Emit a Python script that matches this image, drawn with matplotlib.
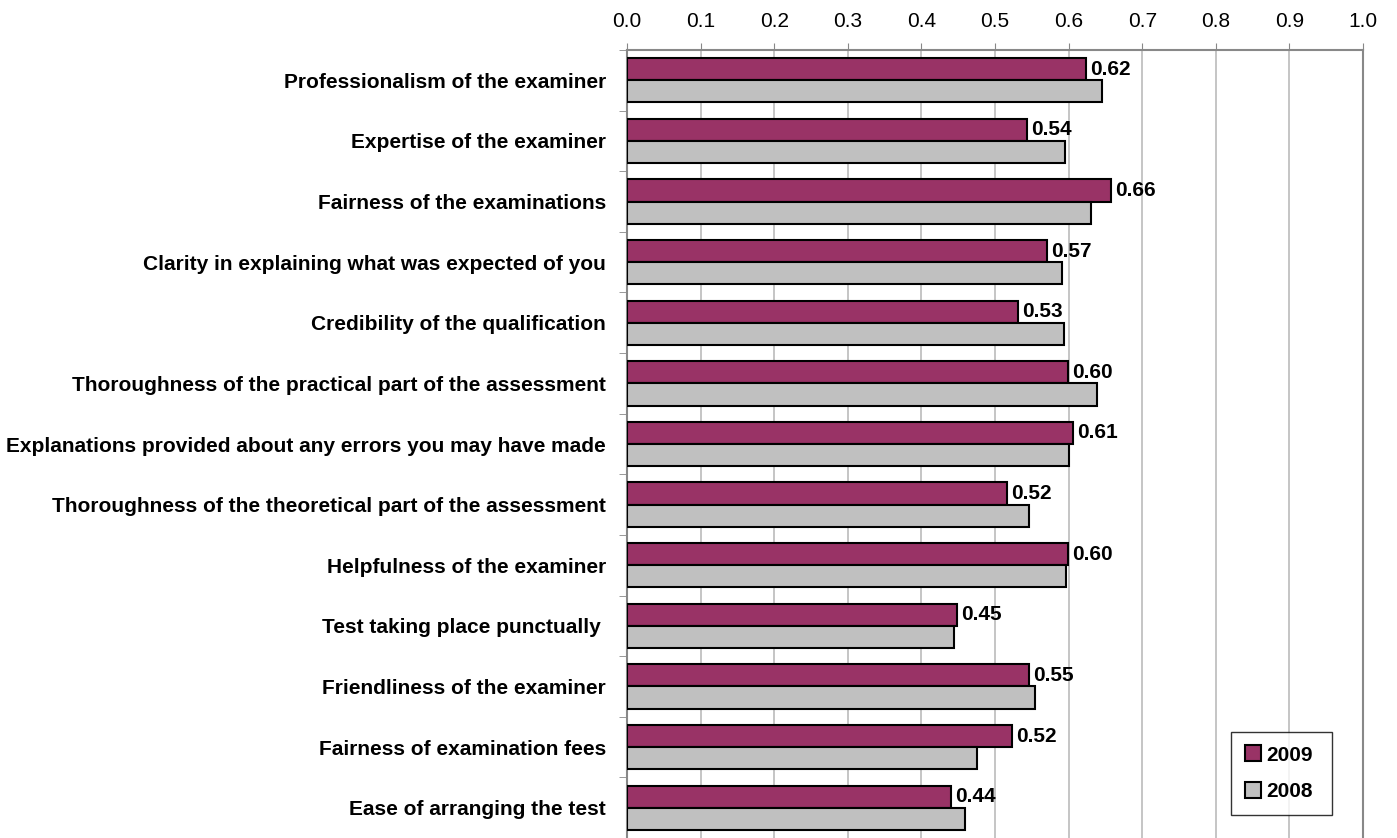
import matplotlib
matplotlib.use("Agg")
import matplotlib.pyplot as plt
import numpy as np

plt.rcParams['font.family'] = ['Liberation Sans', 'DejaVu Sans']

categories = [
    "Professionalism of the examiner",
    "Expertise of the examiner",
    "Fairness of the examinations",
    "Clarity in explaining what was expected of you",
    "Credibility of the qualification",
    "Thoroughness of the practical part of the assessment",
    "Explanations provided about any errors you may have made",
    "Thoroughness of the theoretical part of the assessment",
    "Helpfulness of the examiner",
    "Test taking place punctually ",
    "Friendliness of the examiner",
    "Fairness of examination fees",
    "Ease of arranging the test",
]
values_2009 = [0.624, 0.543, 0.657, 0.571, 0.531, 0.599, 0.606, 0.516, 0.599, 0.448, 0.546, 0.523, 0.440]
values_2008 = [0.646, 0.595, 0.631, 0.591, 0.594, 0.638, 0.600, 0.546, 0.596, 0.444, 0.554, 0.475, 0.459]
series_names = ["2009", "2008"]
x_ticks = [0.0, 0.1, 0.2, 0.3, 0.4, 0.5, 0.6, 0.7, 0.8, 0.9, 1.0]

fs = 15

fig = plt.figure(figsize=(13.97, 8.38), dpi=100)
ax = fig.add_axes([627/1397, 0.0, (1363-627)/1397, 1 - 50/838])

n = len(categories)
y = np.arange(n)
h = 0.365
grid_c = '#C0C0C0'
frame_c = '#888888'

ax.set_axisbelow(True)
b1 = ax.barh(y - h/2, values_2009, height=h, color='#993366', edgecolor='black', linewidth=1.5, label=series_names[0], zorder=3)
b2 = ax.barh(y + h/2, values_2008, height=h, color='#C0C0C0', edgecolor='black', linewidth=1.5, label=series_names[1], zorder=3)

for yi, v in zip(y, values_2009):
    ax.annotate(f"{v:.2f}", xy=(v, yi - h/2), xytext=(3, 0), textcoords='offset points',
                ha='left', va='center', fontsize=fs, fontweight='bold', zorder=4)

ax.set_xlim(0, 1.0)
ax.set_ylim(n - 0.5, -0.5)
ax.xaxis.tick_top()
ax.set_xticks(x_ticks)
ax.set_xticklabels([f"{t:.1f}" for t in x_ticks], fontsize=fs)
ax.tick_params(axis='x', direction='out', length=5, color=frame_c, pad=9)
ax.grid(axis='x', color=grid_c, linewidth=1.3, zorder=0)

ax.set_yticks(y)
ax.set_yticklabels(categories, fontsize=fs, fontweight='bold')
ax.tick_params(axis='y', which='major', length=0, pad=15)
ax.set_yticks(np.arange(n + 1) - 0.5, minor=True)
ax.tick_params(axis='y', which='minor', length=6, color=frame_c, direction='out')

for s in ['top', 'right', 'left']:
    ax.spines[s].set_color(frame_c)
    ax.spines[s].set_linewidth(1.5)
ax.spines['bottom'].set_visible(False)

leg = ax.legend(handles=[b1, b2], loc='lower left', bbox_to_anchor=((1231-627)/736, (838-815)/788, 101/736, 85/788),
                mode='expand', frameon=True, fancybox=False, edgecolor='black',
                prop={'weight': 'bold', 'size': fs}, handlelength=0.8, handleheight=0.8,
                handletextpad=0.25, labelspacing=0.85, borderpad=0.65, borderaxespad=0)
leg.get_frame().set_linewidth(1.0)

fig.savefig("out.png", dpi=100)
